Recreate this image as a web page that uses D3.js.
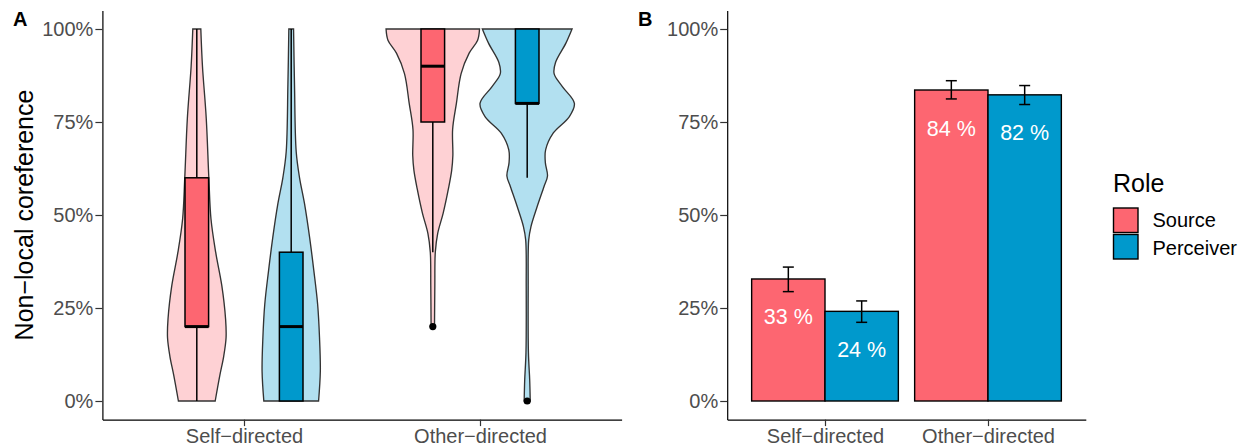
<!DOCTYPE html>
<html>
<head>
<meta charset="utf-8">
<script src="https://cdn.jsdelivr.net/npm/d3@7"></script>
<style>
  html, body { margin: 0; padding: 0; background: #fff; }
  svg { display: block; font-family: "Liberation Sans", Arial, Helvetica, sans-serif; }
</style>
</head>
<body>
<svg id="chart" width="1238" height="446"></svg>
<script>
// ---------- DATA ----------
const categories = ["Self\u2212directed", "Other\u2212directed"];
const roles = ["Source", "Perceiver"];
const yTicks = [0, 0.25, 0.5, 0.75, 1];

// Violin density profiles: [value, relative half-width]
const violinSourceSelf = [[1.0,0.085],[0.9,0.12],[0.76,0.2],[0.6,0.255],[0.49,0.3],[0.4,0.4],[0.31,0.53],[0.22,0.61],[0.17,0.62],[0.12,0.57],[0.07,0.49],[0.0,0.39]];
const violinPerceiverSelf = [[1.0,0.05],[0.85,0.07],[0.67,0.106],[0.6,0.177],[0.53,0.283],[0.44,0.39],[0.35,0.48],[0.26,0.56],[0.17,0.6],[0.08,0.617],[0.0,0.58]];
const violinSourceOther = [[1.0,0.99],[0.97,0.95],[0.935,0.77],[0.88,0.6],[0.8,0.5],[0.73,0.42],[0.66,0.425],[0.62,0.4],[0.57,0.33],[0.505,0.22],[0.45,0.103],[0.4,0.053],[0.31,0.043],[0.2,0.036]];
const violinPerceiverOther = [[1.0,0.95],[0.962,0.82],[0.91,0.6],[0.88,0.57],[0.845,0.745],[0.8,1.0],[0.764,0.89],[0.72,0.55],[0.675,0.39],[0.64,0.385],[0.605,0.43],[0.576,0.355],[0.522,0.21],[0.469,0.08],[0.433,0.032],[0.31,0.021],[0.13,0.026],[0.056,0.053],[0.0,0.064]];

// Boxplot statistics, index by category (Self, Other)
const sourceQ1 = [0.2, 0.75], sourceMedian = [0.2, 0.9], sourceQ3 = [0.6, 1.0];
const sourceWhiskerLow = [0.0, 0.4], sourceWhiskerHigh = [1.0, 1.0];
const sourceOutliers = [[], [0.2]];
const perceiverQ1 = [0.0, 0.8], perceiverMedian = [0.2, 0.8], perceiverQ3 = [0.4, 1.0];
const perceiverWhiskerLow = [0.0, 0.6], perceiverWhiskerHigh = [1.0, 1.0];
const perceiverOutliers = [[], [0.0]];

// Bar chart (panel B)
const sourceMeans = [0.328, 0.836];
const perceiverMeans = [0.241, 0.823];
const sourceLower = [0.294, 0.812], sourceUpper = [0.36, 0.861];
const perceiverLower = [0.2115, 0.797], perceiverUpper = [0.269, 0.848];

// ---------- STYLE ----------
const colors = ["#FD6671", "#0099CC"];
const tickGrey = "#4D4D4D";

const svg = d3.select("#chart");

const y = d3.scaleLinear().domain([-0.05, 1.05]).range([419.6, 10.4]);

function styleAxis(g) {
  g.select(".domain").attr("stroke", "#000").attr("stroke-width", 1.2);
  g.selectAll(".tick line").attr("stroke", "#333").attr("stroke-width", 1.2);
  g.selectAll(".tick text").attr("fill", tickGrey).attr("font-size", 20)
    .attr("font-family", "Liberation Sans, Arial, sans-serif");
}

function drawYAxis(xPos) {
  const g = svg.append("g").attr("transform", `translate(${xPos},0)`)
    .call(d3.axisLeft(y).tickValues(yTicks).tickFormat(d3.format(".0%")).tickSize(7).tickSizeOuter(0).tickPadding(2));
  styleAxis(g);
}
function drawXAxis(scale) {
  const g = svg.append("g").attr("transform", `translate(0,${y(-0.05)})`)
    .call(d3.axisBottom(scale).tickSize(6.5).tickSizeOuter(0).tickPadding(3));
  styleAxis(g);
  g.selectAll(".tick text").attr("dy", "0.71em").attr("y", 9);
}

// ---------- PANEL A ----------
const xA = d3.scalePoint().domain(categories).range([102.4, 621.6]).padding(0.6);
const stepA = xA.step();
const dodgeA = 0.2 * stepA;
const wA = d3.scaleLinear().domain([0, 1]).range([0, 0.2 * stepA]);
const boxHalf = 0.05 * stepA;

const violins = [
  {cat: 0, role: 0, prof: violinSourceSelf},
  {cat: 0, role: 1, prof: violinPerceiverSelf},
  {cat: 1, role: 0, prof: violinSourceOther},
  {cat: 1, role: 1, prof: violinPerceiverOther}
];

const gA = svg.append("g");
violins.forEach(v => {
  const cx = xA(categories[v.cat]) + (v.role === 0 ? -dodgeA : dodgeA);
  const area = d3.area()
    .y(d => y(d[0]))
    .x0(d => cx - wA(d[1]))
    .x1(d => cx + wA(d[1]))
    .curve(d3.curveCatmullRom.alpha(0.5));
  gA.append("path").datum(v.prof).attr("d", area)
    .attr("fill", colors[v.role]).attr("fill-opacity", 0.3)
    .attr("stroke", "#333").attr("stroke-width", 1.35);
});

const boxStats = [
  {q1: sourceQ1, med: sourceMedian, q3: sourceQ3, lo: sourceWhiskerLow, hi: sourceWhiskerHigh, out: sourceOutliers},
  {q1: perceiverQ1, med: perceiverMedian, q3: perceiverQ3, lo: perceiverWhiskerLow, hi: perceiverWhiskerHigh, out: perceiverOutliers}
];
categories.forEach((c, ci) => {
  boxStats.forEach((b, ri) => {
    const cx = xA(c) + (ri === 0 ? -dodgeA : dodgeA);
    gA.append("line").attr("x1", cx).attr("x2", cx).attr("y1", y(b.q3[ci])).attr("y2", y(b.hi[ci]))
      .attr("stroke", "#000").attr("stroke-width", 1.5);
    gA.append("line").attr("x1", cx).attr("x2", cx).attr("y1", y(b.q1[ci])).attr("y2", y(b.lo[ci]))
      .attr("stroke", "#000").attr("stroke-width", 1.5);
    gA.append("rect").attr("x", cx - boxHalf).attr("width", 2 * boxHalf)
      .attr("y", y(b.q3[ci])).attr("height", y(b.q1[ci]) - y(b.q3[ci]))
      .attr("fill", colors[ri]).attr("stroke", "#000").attr("stroke-width", 1.5);
    gA.append("line").attr("x1", cx - boxHalf).attr("x2", cx + boxHalf)
      .attr("y1", y(b.med[ci])).attr("y2", y(b.med[ci]))
      .attr("stroke", "#000").attr("stroke-width", 3);
    b.out[ci].forEach(o => {
      gA.append("circle").attr("cx", cx).attr("cy", y(o)).attr("r", 3.6).attr("fill", "#000");
    });
  });
});

drawYAxis(102.4);
drawXAxis(xA);

svg.append("text").attr("transform", "translate(33,215) rotate(-90)")
  .attr("text-anchor", "middle").attr("font-size", 25).attr("fill", "#000")
  .text("Non\u2212local coreference");

svg.append("text").attr("x", 13).attr("y", 26).attr("font-size", 20).attr("font-weight", "bold").text("A");

// ---------- PANEL B ----------
const xBc = d3.scalePoint().domain(categories).range([727.2, 1085.8]).padding(0.6);
const stepB = xBc.step();
const barW = 0.45 * stepB;
const gB = svg.append("g");
const barSets = [
  {mean: sourceMeans, lo: sourceLower, hi: sourceUpper},
  {mean: perceiverMeans, lo: perceiverLower, hi: perceiverUpper}
];
categories.forEach((c, ci) => {
  barSets.forEach((b, ri) => {
    const x0 = xBc(c) + (ri === 0 ? -barW : 0);
    gB.append("rect").attr("x", x0).attr("width", barW)
      .attr("y", y(b.mean[ci])).attr("height", y(0) - y(b.mean[ci]))
      .attr("fill", colors[ri]).attr("stroke", "#000").attr("stroke-width", 1.4);
  });
});
categories.forEach((c, ci) => {
  barSets.forEach((b, ri) => {
    const cx = xBc(c) + (ri === 0 ? -barW / 2 : barW / 2);
    const cw = barW * 0.075;
    gB.append("line").attr("x1", cx).attr("x2", cx).attr("y1", y(b.lo[ci])).attr("y2", y(b.hi[ci]))
      .attr("stroke", "#000").attr("stroke-width", 1.5);
    [b.lo[ci], b.hi[ci]].forEach(v => {
      gB.append("line").attr("x1", cx - cw).attr("x2", cx + cw).attr("y1", y(v)).attr("y2", y(v))
        .attr("stroke", "#000").attr("stroke-width", 1.5);
    });
    gB.append("text").attr("x", cx).attr("y", y(b.mean[ci]) + 45.5)
      .attr("text-anchor", "middle").attr("font-size", 21.5).attr("fill", "#fff")
      .text(Math.round(b.mean[ci] * 100) + " %");
  });
});

drawYAxis(727.2);
drawXAxis(xBc);

svg.append("text").attr("x", 638).attr("y", 26).attr("font-size", 20).attr("font-weight", "bold").text("B");

// ---------- LEGEND ----------
const lg = svg.append("g");
lg.append("text").attr("x", 1113).attr("y", 192).attr("font-size", 25).attr("fill", "#000").text("Role");
roles.forEach((r, i) => {
  lg.append("rect").attr("x", 1113.5).attr("y", 208 + i * 26.5).attr("width", 24.5).attr("height", 24.5)
    .attr("fill", colors[i]).attr("stroke", "#000").attr("stroke-width", 1.4);
  lg.append("text").attr("x", 1152.5).attr("y", 227 + i * 27.5).attr("font-size", 20).attr("fill", "#000").text(r);
});
</script>
</body>
</html>
